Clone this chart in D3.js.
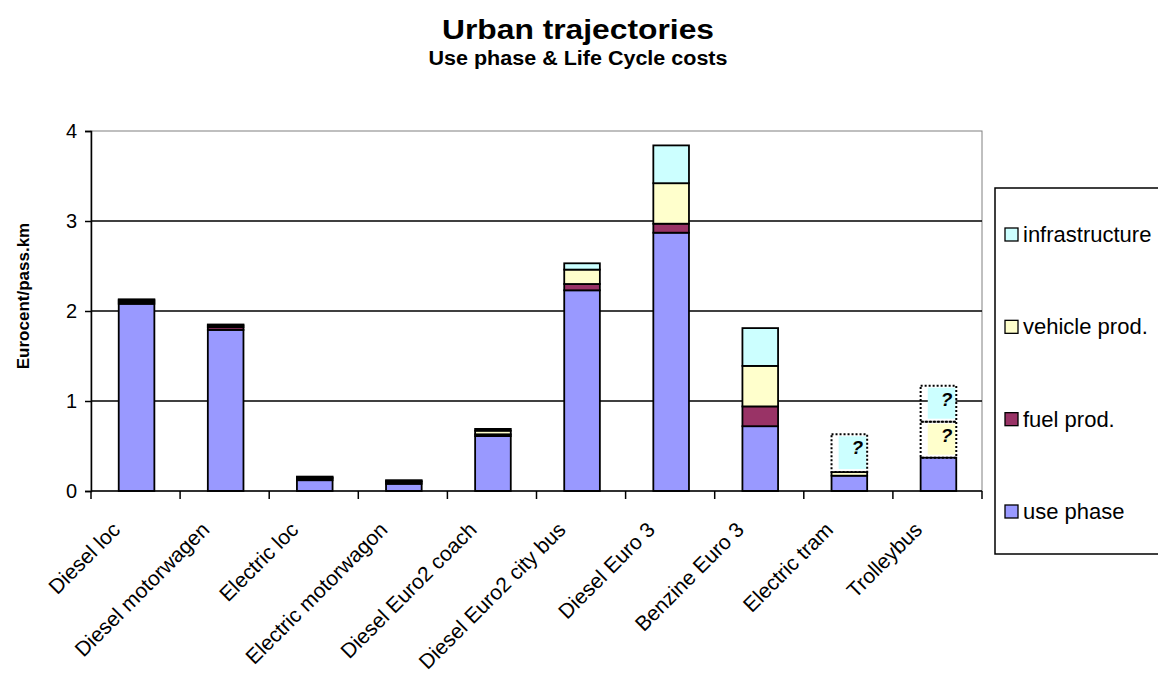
<!DOCTYPE html>
<html>
<head>
<meta charset="utf-8">
<script src="https://cdn.jsdelivr.net/npm/d3@7"></script>
<style>
  html, body { margin: 0; padding: 0; background: #fff; }
  svg { display: block; font-family: Arial, "Liberation Sans", sans-serif; }
</style>
</head>
<body>
<svg id="chart" width="1158" height="677"></svg>
<script>
// ---- data ----
const categories = ["Diesel loc", "Diesel motorwagen", "Electric loc", "Electric motorwagon",
  "Diesel Euro2 coach", "Diesel Euro2 city bus", "Diesel Euro 3", "Benzine Euro 3",
  "Electric tram", "Trolleybus"];
const usePhase       = [2.08, 1.79, 0.12, 0.08, 0.61, 2.23, 2.87, 0.72, 0.17, 0.37];
const fuelProd       = [0.02, 0.03, 0.02, 0.02, 0.02, 0.07, 0.10, 0.22, 0.00, 0.00];
const vehicleProd    = [0.02, 0.02, 0.01, 0.01, 0.04, 0.16, 0.45, 0.45, 0.04, 0.40];
const infrastructure = [0.01, 0.01, 0.01, 0.01, 0.02, 0.07, 0.42, 0.42, 0.42, 0.40];
// segments that are rough estimates (drawn dotted with "?")
const vehicleEstimated = [false, false, false, false, false, false, false, false, false, true];
const infraEstimated   = [false, false, false, false, false, false, false, false, true, true];
const seriesNames = ["use phase", "fuel prod.", "vehicle prod.", "infrastructure"];
const seriesColors = ["#9999FF", "#993366", "#FFFFCC", "#CCFFFF"];
const yTicks = [0, 1, 2, 3, 4];
const titleText = "Urban trajectories";
const subtitleText = "Use phase & Life Cycle costs";
const yTitle = "Eurocent/pass.km";

// ---- layout ----
const svg = d3.select("#chart");
const plot = {left: 91, right: 982, top: 131, bottom: 491};

const x = d3.scaleBand().domain(categories).range([plot.left, plot.right])
  .paddingInner(0.6).paddingOuter(0.3);
const y = d3.scaleLinear().domain([0, 4]).range([plot.bottom, plot.top]);

// titles
svg.append("text").attr("x", 578).attr("y", 39).attr("text-anchor", "middle")
  .attr("font-weight", "bold").attr("font-size", 28)
  .attr("textLength", 272).attr("lengthAdjust", "spacingAndGlyphs").text(titleText);
svg.append("text").attr("x", 578).attr("y", 65).attr("text-anchor", "middle")
  .attr("font-weight", "bold").attr("font-size", 20)
  .attr("textLength", 299).attr("lengthAdjust", "spacingAndGlyphs").text(subtitleText);

// plot frame (grey)
svg.append("rect").attr("x", plot.left).attr("y", plot.top)
  .attr("width", plot.right - plot.left).attr("height", plot.bottom - plot.top)
  .attr("fill", "none").attr("stroke", "#808080").attr("stroke-width", 1);

// gridlines
svg.append("g").selectAll("line").data(yTicks.filter(t => t > 0 && t < 4)).join("line")
  .attr("x1", plot.left).attr("x2", plot.right)
  .attr("y1", d => y(d)).attr("y2", d => y(d))
  .attr("stroke", "#000").attr("stroke-width", 1.5);

// stacked data
const rows = categories.map((c, i) => ({
  cat: c,
  vals: [usePhase[i], fuelProd[i], vehicleProd[i], infrastructure[i]],
  est: [false, false, vehicleEstimated[i], infraEstimated[i]]
}));
const segs = [];
rows.forEach(r => {
  let acc = 0;
  r.vals.forEach((v, k) => {
    if (v > 0) segs.push({cat: r.cat, k, y0: acc, y1: acc + v, est: r.est[k]});
    acc += v;
  });
});

const bw = x.bandwidth();
const gBars = svg.append("g").attr("transform", "translate(1,0)");
// solid segments
gBars.selectAll("rect.solid").data(segs.filter(s => !s.est)).join("rect")
  .attr("class", "solid")
  .attr("x", d => x(d.cat)).attr("width", bw)
  .attr("y", d => y(d.y1)).attr("height", d => y(d.y0) - y(d.y1))
  .attr("fill", d => seriesColors[d.k]).attr("stroke", "#000").attr("stroke-width", 1.8);

// estimated segments
const est = segs.filter(s => s.est);
gBars.selectAll("rect.estfill").data(est).join("rect")
  .attr("class", "estfill")
  .attr("x", d => x(d.cat) + bw * 0.2).attr("width", bw * 0.78)
  .attr("y", d => y(d.y1) + 2).attr("height", d => y(d.y0) - y(d.y1) - 5)
  .attr("fill", d => seriesColors[d.k]);
gBars.selectAll("rect.estline").data(est).join("rect")
  .attr("class", "estline")
  .attr("x", d => x(d.cat)).attr("width", bw)
  .attr("y", d => y(d.y1)).attr("height", d => y(d.y0) - y(d.y1))
  .attr("fill", "none").attr("stroke", "#000").attr("stroke-width", 2)
  .attr("stroke-dasharray", "2,2");
gBars.selectAll("text.q").data(est).join("text")
  .attr("class", "q")
  .attr("x", d => x(d.cat) + bw - 4).attr("y", d => y(d.y1) + 20)
  .attr("text-anchor", "end").attr("font-weight", "bold").attr("font-style", "italic")
  .attr("font-size", 19).text("?");

// y axis
const yAxis = svg.append("g").attr("transform", `translate(${plot.left},0)`)
  .call(d3.axisLeft(y).tickValues(yTicks).tickFormat(d3.format("d")).tickSize(6).tickPadding(8));
yAxis.select(".domain").attr("stroke", "#000").attr("stroke-width", 1.5);
yAxis.selectAll(".tick line").attr("stroke", "#000").attr("stroke-width", 1.5);
yAxis.selectAll(".tick text").attr("font-size", 20).attr("fill", "#000")
  .attr("font-family", "Arial, 'Liberation Sans', sans-serif");

// x axis baseline and ticks at category boundaries
const step = x.step();
const boundaries = d3.range(categories.length + 1).map(i => plot.left + i * step);
svg.append("line").attr("x1", plot.left).attr("x2", plot.right)
  .attr("y1", y(0)).attr("y2", y(0)).attr("stroke", "#000").attr("stroke-width", 1.5);
svg.append("g").selectAll("line").data(boundaries).join("line")
  .attr("x1", d => d).attr("x2", d => d).attr("y1", y(0)).attr("y2", y(0) + 8)
  .attr("stroke", "#000").attr("stroke-width", 1.5);

// category labels
svg.append("g").selectAll("text").data(categories).join("text")
  .attr("transform", d => `translate(${x(d) + bw / 2 - 14},${y(0) + 40}) rotate(-45)`)
  .attr("text-anchor", "end").attr("font-size", 21).text(d => d);

// y title
svg.append("text").attr("transform", `translate(29,296) rotate(-90)`)
  .attr("text-anchor", "middle").attr("font-weight", "bold").attr("font-size", 17).text(yTitle);

// legend
const lg = svg.append("g");
lg.append("rect").attr("x", 995).attr("y", 188).attr("width", 175).attr("height", 366)
  .attr("fill", "#fff").attr("stroke", "#000").attr("stroke-width", 1.5);
const legendOrder = [3, 2, 1, 0];
const legendY = d3.scalePoint().domain(legendOrder).range([235, 512]);
const li = lg.selectAll("g.item").data(legendOrder).join("g").attr("class", "item")
  .attr("transform", d => `translate(1005,${legendY(d)})`);
li.append("rect").attr("x", 0).attr("y", -7).attr("width", 13).attr("height", 13)
  .attr("fill", d => seriesColors[d]).attr("stroke", "#000").attr("stroke-width", 1.3);
li.append("text").attr("x", 18).attr("y", 7).attr("font-size", 22).text(d => seriesNames[d]);
</script>
</body>
</html>
